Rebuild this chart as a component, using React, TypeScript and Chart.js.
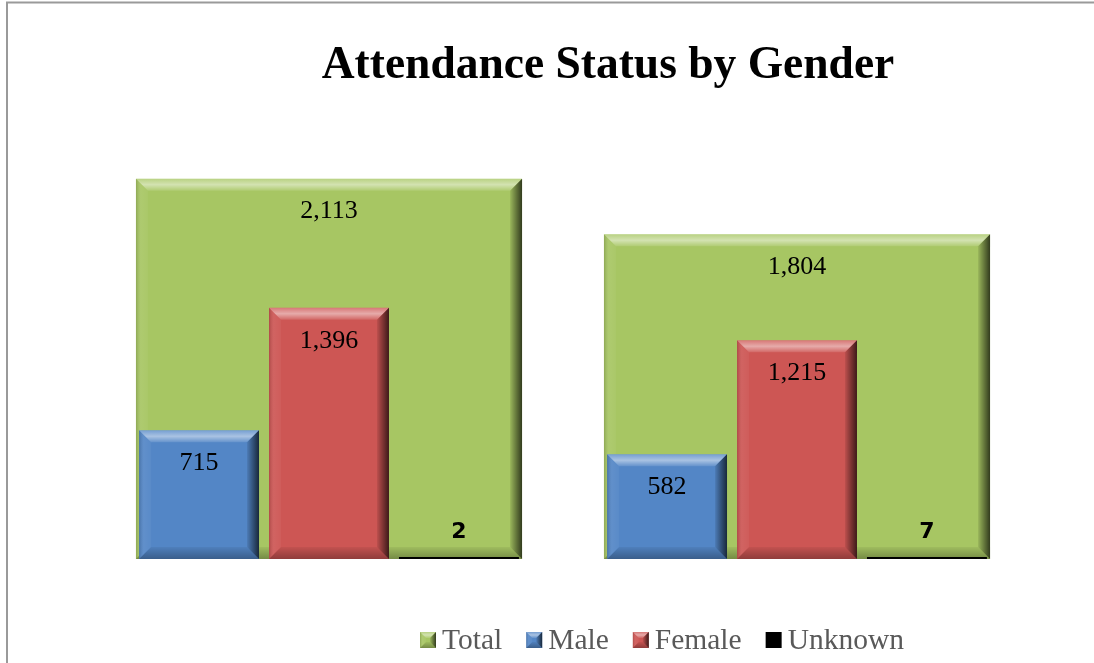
import React, { useEffect, useRef } from "react";
import { Chart, registerables } from "chart.js";

Chart.register(...registerables);

const categories = ["Group 1", "Group 2"];
const seriesNames = ["Total", "Male", "Female", "Unknown"];
const totalValues = [2113, 1804];
const maleValues = [715, 582];
const femaleValues = [1396, 1215];
const unknownValues = [2, 7];
const seriesColors = ["#A7C663", "#5386C6", "#CD5654", "#000000"];
const titleText = "Attendance Status by Gender";

const SERIF = "'Liberation Serif', 'DejaVu Serif', serif";

function poly(ctx: CanvasRenderingContext2D, pts: number[][], fill: any) {
  ctx.beginPath();
  ctx.moveTo(pts[0][0], pts[0][1]);
  for (let i = 1; i < pts.length; i++) ctx.lineTo(pts[i][0], pts[i][1]);
  ctx.closePath();
  ctx.fillStyle = fill;
  ctx.fill();
}

function bevel(ctx: CanvasRenderingContext2D, x1: number, y1: number, x2: number, y2: number, b: number) {
  const h = y2 - y1;
  if (h < 4) return;
  const bb = Math.min(b, h / 2, (x2 - x1) / 2);
  let g = ctx.createLinearGradient(0, y1, 0, y1 + bb);
  g.addColorStop(0, "rgba(255,255,255,0.2)");
  g.addColorStop(0.5, "rgba(255,255,255,0.5)");
  g.addColorStop(1, "rgba(255,255,255,0.1)");
  poly(ctx, [[x1, y1], [x2, y1], [x2 - bb, y1 + bb], [x1 + bb, y1 + bb]], g);
  g = ctx.createLinearGradient(x1, 0, x1 + bb, 0);
  g.addColorStop(0, "rgba(0,0,0,0.15)");
  g.addColorStop(0.4, "rgba(255,255,255,0.08)");
  g.addColorStop(1, "rgba(255,255,255,0.04)");
  poly(ctx, [[x1, y1], [x1 + bb, y1 + bb], [x1 + bb, y2 - bb], [x1, y2]], g);
  g = ctx.createLinearGradient(x2 - bb, 0, x2, 0);
  g.addColorStop(0, "rgba(0,0,0,0.08)");
  g.addColorStop(1, "rgba(0,0,0,0.7)");
  poly(ctx, [[x2, y1], [x2, y2], [x2 - bb, y2 - bb], [x2 - bb, y1 + bb]], g);
  g = ctx.createLinearGradient(0, y2 - bb, 0, y2);
  g.addColorStop(0, "rgba(0,0,0,0.05)");
  g.addColorStop(1, "rgba(0,0,0,0.3)");
  poly(ctx, [[x1, y2], [x2, y2], [x2 - bb, y2 - bb], [x1 + bb, y2 - bb]], g);
}

const bevelPlugin = {
  id: "bevel",
  afterDatasetDraw(chart: any, args: any) {
    const ctx = chart.ctx as CanvasRenderingContext2D;
    const meta = args.meta;
    ctx.save();
    meta.data.forEach((el: any) => {
      const p = el.getProps(["x", "y", "base", "width"], true);
      const x1 = p.x - p.width / 2;
      const x2 = p.x + p.width / 2;
      bevel(ctx, x1, Math.min(p.y, p.base), x2, Math.max(p.y, p.base), 12);
    });
    ctx.restore();
  },
};

const labelPlugin = {
  id: "barLabels",
  afterDatasetsDraw(chart: any) {
    const ctx = chart.ctx as CanvasRenderingContext2D;
    ctx.save();
    ctx.textAlign = "center";
    ctx.textBaseline = "middle";
    chart.data.datasets.forEach((ds: any, di: number) => {
      const meta = chart.getDatasetMeta(di);
      meta.data.forEach((el: any, i: number) => {
        const p = el.getProps(["x", "y", "base"], true);
        const v = ds.data[i] as number;
        const h = p.base - p.y;
        const txt = v.toLocaleString("en-US");
        if (h < 40) {
          ctx.font = "bold 22px 'DejaVu Sans', sans-serif";
          ctx.fillStyle = "#000";
          ctx.fillText(txt, p.x, p.base - 27);
        } else {
          ctx.font = `26px ${SERIF}`;
          ctx.fillStyle = "#000";
          ctx.fillText(txt, p.x, p.y + 33);
        }
      });
    });
    ctx.restore();
  },
};

const decorPlugin = {
  id: "decor",
  beforeDraw(chart: any) {
    const ctx = chart.ctx as CanvasRenderingContext2D;
    ctx.save();
    ctx.fillStyle = "#ffffff";
    ctx.fillRect(0, 0, chart.width, chart.height);
    ctx.strokeStyle = "#9a9a9a";
    ctx.lineWidth = 2;
    ctx.beginPath();
    ctx.moveTo(7, chart.height);
    ctx.lineTo(7, 2.5);
    ctx.lineTo(chart.width, 2.5);
    ctx.stroke();
    ctx.restore();
  },
  afterDraw(chart: any) {
    const ctx = chart.ctx as CanvasRenderingContext2D;
    ctx.save();
    // title
    ctx.font = `bold 45.5px ${SERIF}`;
    ctx.fillStyle = "#000";
    ctx.textAlign = "center";
    ctx.textBaseline = "alphabetic";
    ctx.fillText(titleText, 608, 78);
    // legend
    ctx.font = `29.5px ${SERIF}`;
    const box = 16;
    const gap = 6;
    const spacing = 24;
    const widths = seriesNames.map((n) => box + gap + ctx.measureText(n).width);
    const total = widths.reduce((a, b) => a + b, 0) + spacing * (seriesNames.length - 1);
    let x = 662 - total / 2;
    const cy = 640;
    seriesNames.forEach((n, i) => {
      ctx.fillStyle = seriesColors[i];
      ctx.fillRect(x, cy - 8, box, box);
      if (i < 3) {
        bevel(ctx, x, cy - 8, x + box, cy + 8, 6);
      }
      ctx.fillStyle = "#595959";
      ctx.textAlign = "left";
      ctx.textBaseline = "middle";
      ctx.fillText(n, x + box + gap, cy + 1);
      x += widths[i] + spacing;
    });
    ctx.restore();
  },
};

export default function App() {
  const ref = useRef<HTMLCanvasElement>(null);
  useEffect(() => {
    if (!ref.current) return;
    const chart = new Chart(ref.current, {
      type: "bar",
      data: {
        labels: categories,
        datasets: [
          {
            label: seriesNames[0],
            data: totalValues,
            backgroundColor: seriesColors[0],
            grouped: false,
            categoryPercentage: 0.825,
            barPercentage: 1,
            order: 10,
          },
          {
            label: seriesNames[1],
            data: maleValues,
            backgroundColor: seriesColors[1],
            categoryPercentage: 0.833,
            barPercentage: 0.923,
            order: 0,
          },
          {
            label: seriesNames[2],
            data: femaleValues,
            backgroundColor: seriesColors[2],
            categoryPercentage: 0.833,
            barPercentage: 0.923,
            order: 0,
          },
          {
            label: seriesNames[3],
            data: unknownValues,
            backgroundColor: seriesColors[3],
            categoryPercentage: 0.833,
            barPercentage: 0.923,
            minBarLength: 2,
            order: 0,
          },
        ],
      },
      options: {
        responsive: false,
        animation: false,
        layout: { padding: { left: 95, right: 63, top: 109, bottom: 104 } },
        scales: {
          x: { display: false, grid: { display: false } },
          y: { display: false, min: 0, max: 2500, grid: { display: false } },
        },
        plugins: {
          legend: { display: false },
          title: { display: false },
          tooltip: { enabled: false },
        },
      },
      plugins: [decorPlugin, bevelPlugin, labelPlugin],
    });
    return () => chart.destroy();
  }, []);
  return (
    <div style={{ position: "absolute", left: 0, top: 0, width: 1094, height: 663 }}>
      <canvas ref={ref} width={1094} height={663} />
    </div>
  );
}
